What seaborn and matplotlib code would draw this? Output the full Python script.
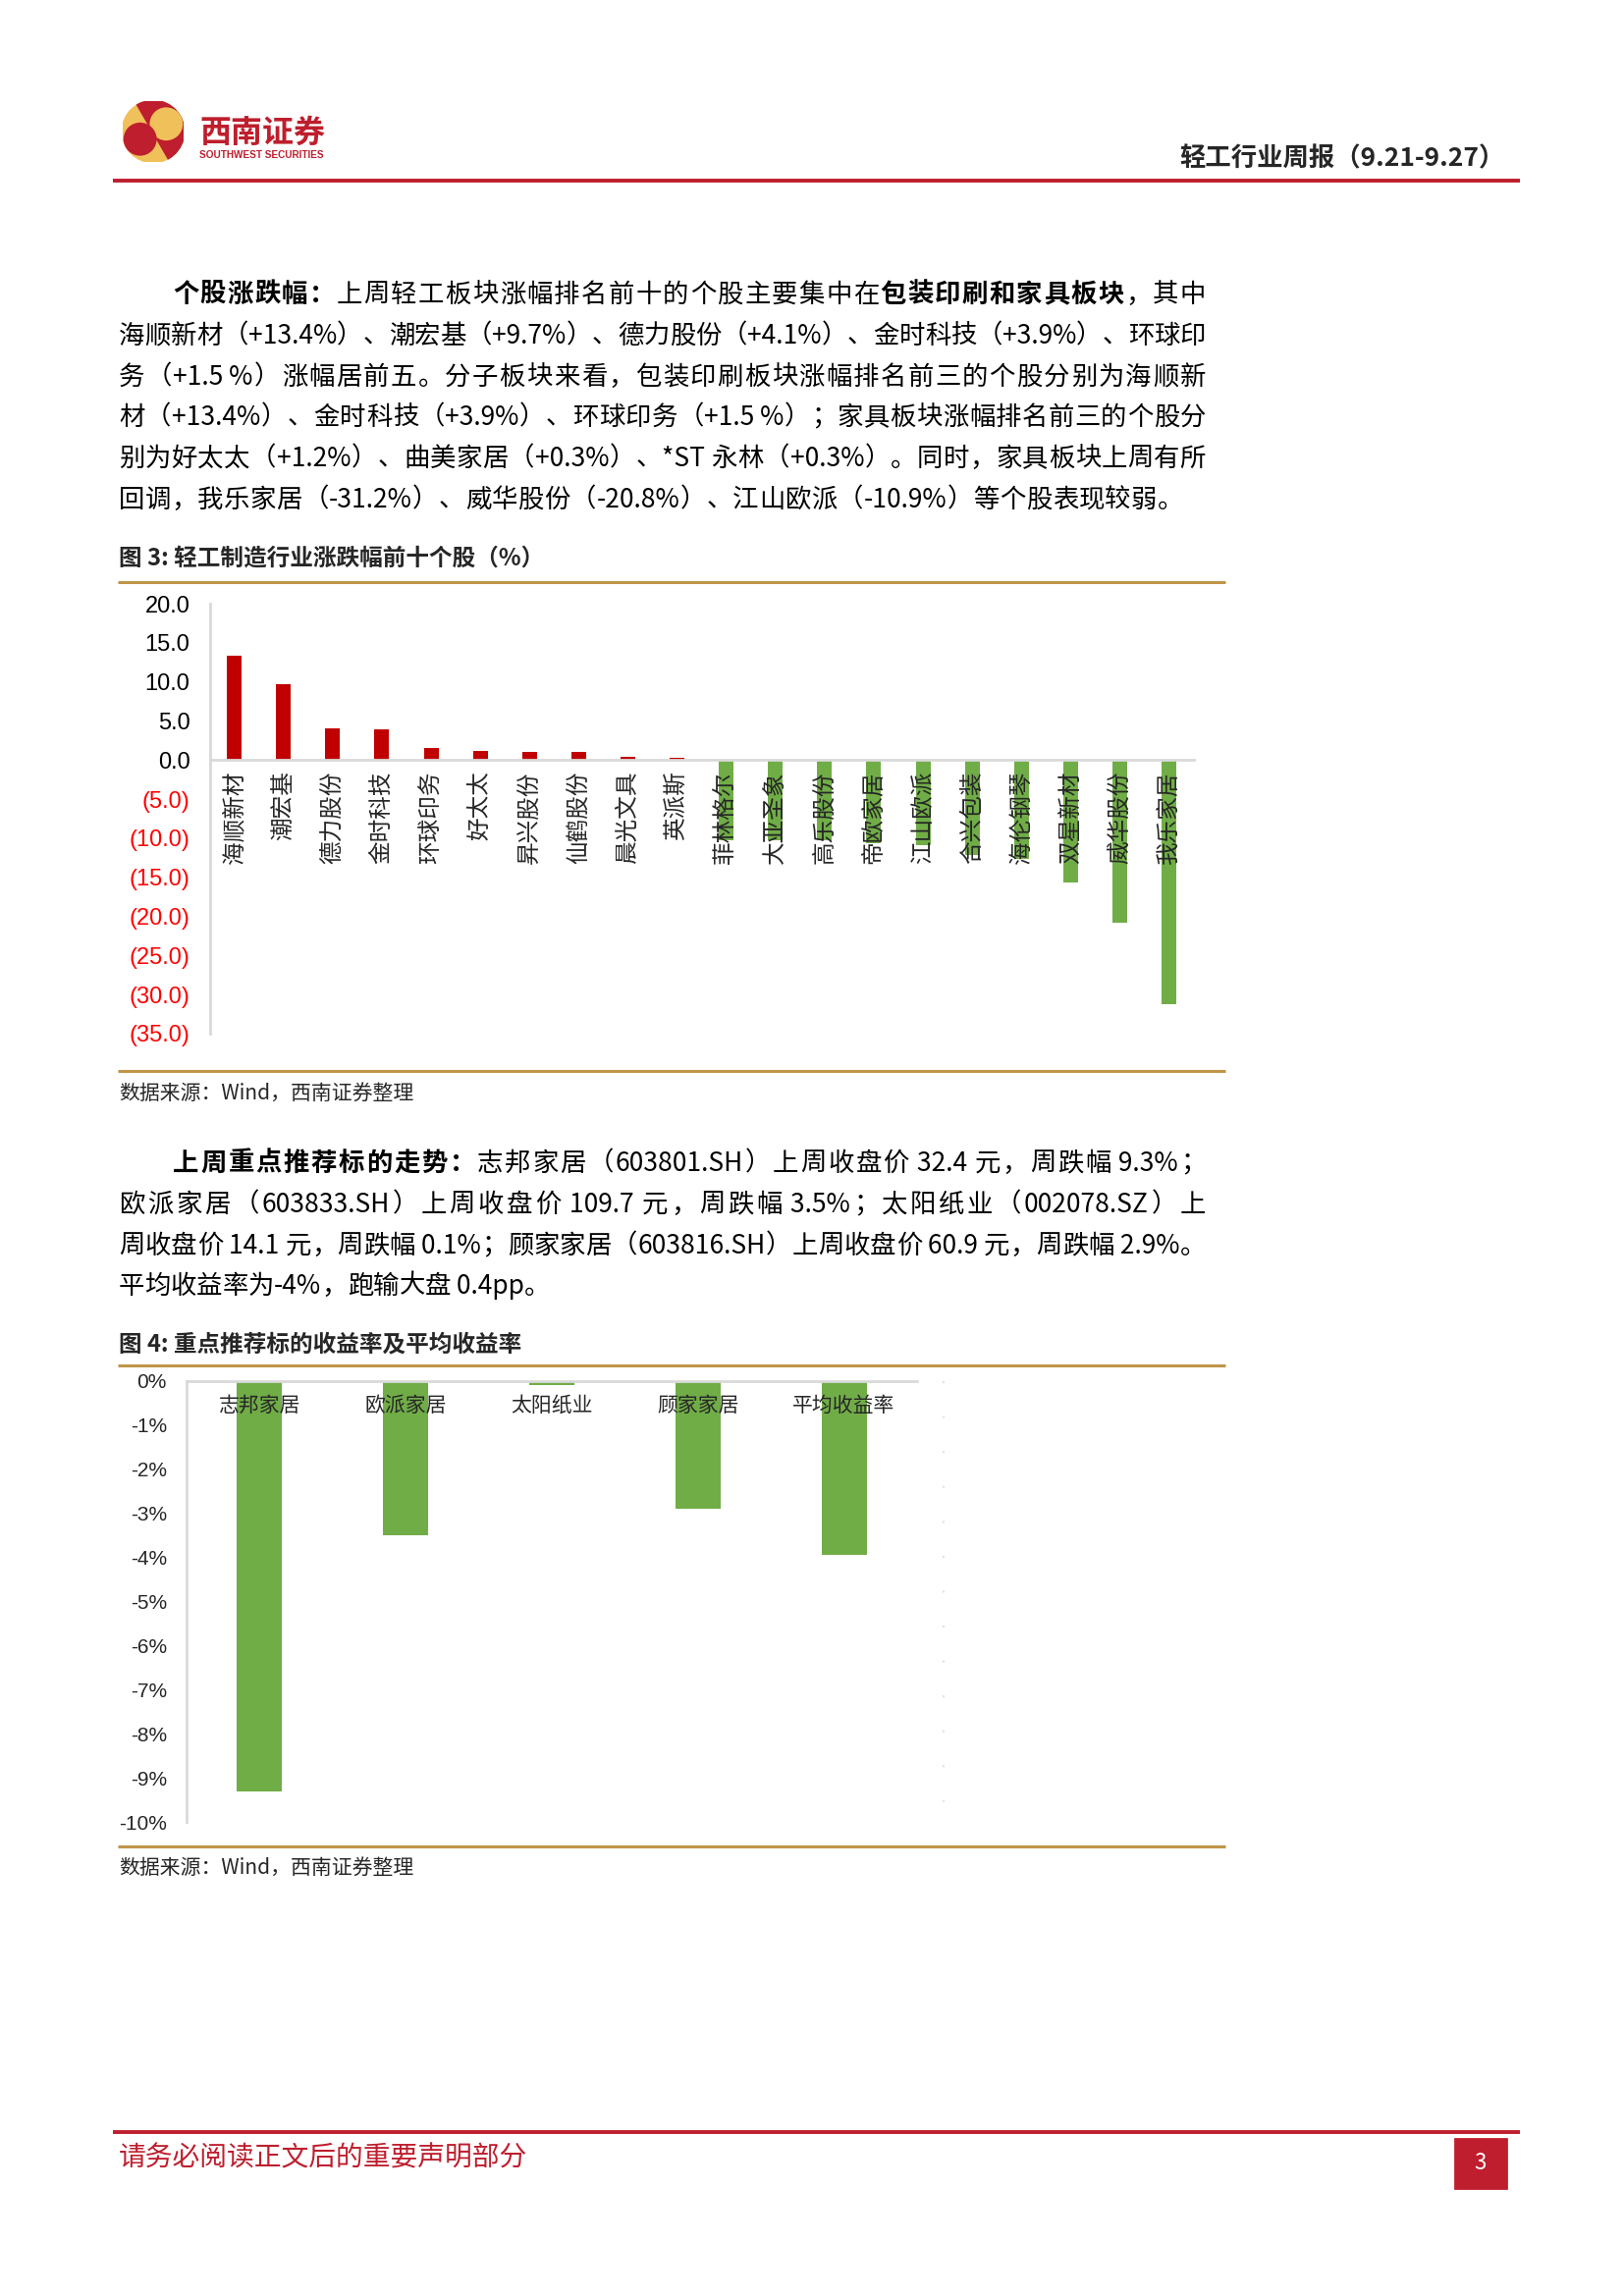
import matplotlib
matplotlib.use('Agg')
import numpy as np
import pandas as pd
import seaborn as sns
import matplotlib.pyplot as plt
from matplotlib.lines import Line2D
from matplotlib.patches import Rectangle, Circle, Wedge

# figure 3: light industry stocks, top / bottom ten by weekly change (%)
stocks = ['海顺新材', '潮宏基', '德力股份', '金时科技', '环球印务', '好太太', '昇兴股份', '仙鹤股份', '晨光文具', '英派斯',
          '菲林格尔', '大亚圣象', '高乐股份', '帝欧家居', '江山欧派', '合兴包装', '海伦钢琴', '双星新材', '威华股份', '我乐家居']
changes = [13.4, 9.7, 4.1, 3.9, 1.5, 1.2, 1.1, 1.1, 0.4, 0.3,
           -10.2, -10.3, -10.3, -10.6, -10.9, -12.2, -12.6, -15.6, -20.8, -31.2]
fig3_ticks = [20, 15, 10, 5, 0, -5, -10, -15, -20, -25, -30, -35]

# figure 4: weekly return of key picks and their average (%)
picks = ['志邦家居', '欧派家居', '太阳纸业', '顾家家居', '平均收益率']
returns = [-9.3, -3.5, -0.1, -2.9, -3.95]
fig4_ticks = [0, -1, -2, -3, -4, -5, -6, -7, -8, -9, -10]

RED = '#C00000'
GREEN = '#70AD47'
GOLD = '#BF9548'
BRAND = '#BE1E2D'
AXIS = '#D9D9D9'

sns.set_style('white')
plt.rcParams['font.family'] = ['Noto Sans CJK SC', 'DejaVu Sans']
plt.rcParams['axes.unicode_minus'] = False

W, H, DPI = 1654, 2339, 200
fig = plt.figure(figsize=(W / DPI, H / DPI), dpi=DPI)
renderer = fig.canvas.get_renderer()


def fx(x):
    return x / W


def fy(y):
    return 1 - y / H


def box(x0, y0, x1, y1):
    return [x0 / W, 1 - y1 / H, (x1 - x0) / W, (y1 - y0) / H]


def hline(y, x0, x1, color, lw):
    fig.add_artist(Line2D([fx(x0), fx(x1)], [fy(y), fy(y)], color=color, lw=lw,
                          transform=fig.transFigure, solid_capstyle='butt'))


def tokens(segs):
    out = []
    for txt, bold in segs:
        buf = ''
        for ch in txt:
            if ord(ch) < 128:
                buf += ch
            else:
                if buf:
                    out.append((buf, bold))
                    buf = ''
                out.append((ch, bold))
        if buf:
            out.append((buf, bold))
    return out


def text_line(segs, x0, yc, x1=None, size=9.5, color='black'):
    # place token by token so the line can be justified like the report
    em = size * DPI / 72
    base = yc + 0.37 * em
    arts = []
    for t, bold in tokens(segs):
        a = fig.text(0, fy(base), t, fontsize=size, color=color, ha='left', va='baseline',
                     fontweight='bold' if bold else 'normal')
        arts.append(a)
    widths = [a.get_window_extent(renderer).width for a in arts]
    gap = 0
    if x1 is not None and len(arts) > 1:
        gap = (x1 - x0 - sum(widths)) / (len(arts) - 1)
    x = x0
    for a, w in zip(arts, widths):
        a.set_x(fx(x))
        x += w + gap


# ---- page header ----
logo = fig.add_axes(box(125, 103, 187, 165))
logo.set_xlim(-1, 1)
logo.set_ylim(-1, 1)
logo.axis('off')
logo.add_patch(Circle((0, 0), 1, color='#F0C05A'))
logo.add_patch(Wedge((0, 0), 1, -60, 120, color=BRAND))
logo.add_patch(Circle((0.43, 0.25), 0.5, color='#F0C05A'))
logo.add_patch(Circle((-0.43, -0.25), 0.5, color=BRAND))
fig.text(fx(203), fy(136), '西南证券', fontsize=11.5, fontweight='bold', color=BRAND, va='center', ha='left')
fig.text(fx(203), fy(158), 'SOUTHWEST SECURITIES', fontsize=3.6, fontweight='bold', color=BRAND,
         va='center', ha='left', family=['Liberation Sans', 'DejaVu Sans'])
fig.text(fx(1533), fy(162), '轻工行业周报（9.21-9.27）', fontsize=9.5, fontweight='bold', ha='right', va='center')
hline(184, 115, 1548, BRAND, 1.4)

# ---- paragraph 1 ----
B, N = True, False
R = 1228
text_line([('个股涨跌幅：', B), ('上周轻工板块涨幅排名前十的个股主要集中在', N), ('包装印刷和家具板块', B), ('，其中', N)], 176, 298, R)
text_line([('海顺新材（+13.4%）、潮宏基（+9.7%）、德力股份（+4.1%）、金时科技（+3.9%）、环球印', N)], 121, 340, R)
text_line([('务（+1.5 %）涨幅居前五。分子板块来看，包装印刷板块涨幅排名前三的个股分别为海顺新', N)], 121, 382, R)
text_line([('材（+13.4%）、金时科技（+3.9%）、环球印务（+1.5 %）；家具板块涨幅排名前三的个股分', N)], 121, 423, R)
text_line([('别为好太太（+1.2%）、曲美家居（+0.3%）、*ST 永林（+0.3%）。同时，家具板块上周有所', N)], 121, 465, R)
text_line([('回调，我乐家居（-31.2%）、威华股份（-20.8%）、江山欧派（-10.9%）等个股表现较弱。', N)], 121, 507, 1205)

# ---- figure 3 ----
fig.text(fx(121), fy(569), '图 3: 轻工制造行业涨跌幅前十个股（%）', fontsize=8.5, fontweight='bold', va='center')
hline(593, 120, 1248, GOLD, 1.1)

df3 = pd.DataFrame({'stock': stocks, 'change': changes})
df3['side'] = np.where(df3['change'] >= 0, 'up', 'down')
ax3 = fig.add_axes(box(213.6, 615, 1215.6, 1053))
sns.barplot(data=df3, x='stock', y='change', hue='side', order=stocks, palette={'up': RED, 'down': GREEN},
            dodge=False, width=0.3, saturation=1, linewidth=0, legend=False, ax=ax3)
ax3.set_axisbelow(False)
ax3.set_xlim(-0.5, len(stocks) - 0.5)
ax3.set_ylim(-35, 20)
ax3.set_xlabel('')
ax3.set_ylabel('')
for s in ['top', 'right']:
    ax3.spines[s].set_visible(False)
ax3.spines['bottom'].set_position(('data', 0))
for s in ['bottom', 'left']:
    ax3.spines[s].set_color(AXIS)
    ax3.spines[s].set_linewidth(1.0)
ax3.set_yticks(fig3_ticks)
ax3.set_yticklabels([f'{v:.1f}' if v >= 0 else f'({-v:.1f})' for v in fig3_ticks],
                    family=['Liberation Sans', 'DejaVu Sans'], fontsize=8.5)
for lab, v in zip(ax3.get_yticklabels(), fig3_ticks):
    lab.set_color('black' if v >= 0 else '#FF0000')
ax3.set_xticks(range(len(stocks)))
ax3.set_xticklabels(stocks, rotation=90, fontsize=8.5)
ax3.tick_params(axis='x', length=0, pad=4)
ax3.tick_params(axis='y', length=2.2, width=0.8, color=AXIS, pad=5)

hline(1091, 120, 1248, GOLD, 1.1)
fig.text(fx(121), fy(1114), '数据来源：Wind，西南证券整理', fontsize=7.5, style='italic', va='center')

# ---- paragraph 2 ----
text_line([('上周重点推荐标的走势：', B), ('志邦家居（603801.SH）上周收盘价 32.4 元，周跌幅 9.3%；', N)], 176, 1183, R)
text_line([('欧派家居（603833.SH）上周收盘价 109.7 元，周跌幅 3.5%；太阳纸业（002078.SZ）上', N)], 121, 1225, R)
text_line([('周收盘价 14.1 元，周跌幅 0.1%；顾家家居（603816.SH）上周收盘价 60.9 元，周跌幅 2.9%。', N)], 121, 1267, R)
text_line([('平均收益率为-4%，跑输大盘 0.4pp。', N)], 121, 1308)

# ---- figure 4 ----
fig.text(fx(121), fy(1369), '图 4: 重点推荐标的收益率及平均收益率', fontsize=8.5, fontweight='bold', va='center')
hline(1391, 120, 1248, GOLD, 1.1)

ax4 = fig.add_axes(box(190, 1407, 934, 1856))
sns.barplot(x=picks, y=returns, color=GREEN, saturation=1, width=0.31, linewidth=0, ax=ax4)
ax4.set_axisbelow(False)
ax4.set_xlim(-0.5, len(picks) - 0.5)
ax4.set_ylim(-10, 0)
for s in ['top', 'right']:
    ax4.spines[s].set_visible(False)
ax4.spines['bottom'].set_position(('data', 0))
for s in ['bottom', 'left']:
    ax4.spines[s].set_color(AXIS)
    ax4.spines[s].set_linewidth(1.0)
ax4.set_yticks(fig4_ticks)
ax4.set_yticklabels([f'{v}%' for v in fig4_ticks],
                    family=['Liberation Sans Narrow', 'Liberation Sans', 'DejaVu Sans'], fontsize=7.5)
ax4.set_xticks(range(len(picks)))
ax4.set_xticklabels(picks, fontsize=7.5)
ax4.set_xticks(np.arange(-0.5, len(picks)), minor=True)
ax4.tick_params(axis='x', which='major', length=0, pad=5)
ax4.tick_params(axis='x', which='minor', length=2.2, width=0.8, color=AXIS)
ax4.tick_params(axis='y', length=2.2, width=0.8, color=AXIS, pad=5)
# faint dotted edge on the right of the chart area
fig.add_artist(Line2D([fx(961), fx(961)], [fy(1407), fy(1856)], color='#E3E3E3', lw=0.8,
                      linestyle=(0, (1, 15)), transform=fig.transFigure))

hline(1881, 120, 1248, GOLD, 1.1)
fig.text(fx(121), fy(1903), '数据来源：Wind，西南证券整理', fontsize=7.5, style='italic', va='center')

# ---- footer ----
hline(2172, 115, 1548, BRAND, 1.4)
fig.text(fx(121), fy(2198), '请务必阅读正文后的重要声明部分', fontsize=10, color=BRAND, va='center')
fig.add_artist(Rectangle((fx(1482), fy(2229)), 52 / W, 50 / H, transform=fig.transFigure, color=BRAND))
fig.text(fx(1508), fy(2204), '3', fontsize=8, color='white', ha='center', va='center')

fig.savefig('out.png', dpi=DPI)
